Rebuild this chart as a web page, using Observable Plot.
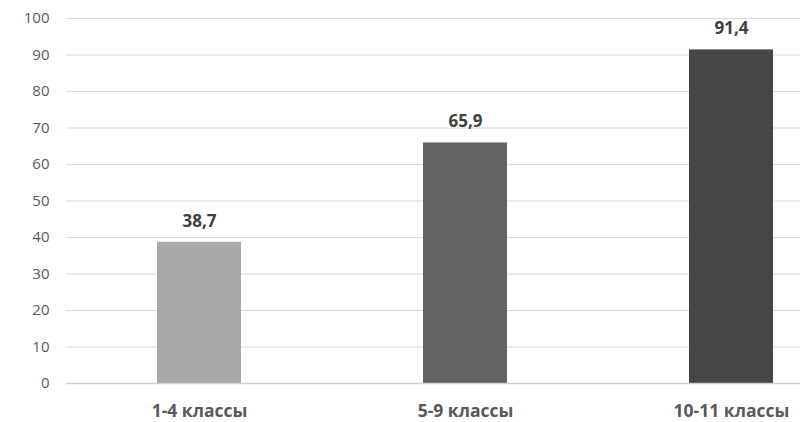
<!DOCTYPE html>
<html><head><meta charset="utf-8">
<script src="https://cdn.jsdelivr.net/npm/d3@7"></script>
<script src="https://cdn.jsdelivr.net/npm/@observablehq/plot@0.6"></script>
<style>
html,body{margin:0;padding:0;background:#fff;overflow:hidden;}
</style>
</head><body><div id="chart"></div>
<script>
const categories = ["1-4 классы", "5-9 классы", "10-11 классы"];
const values = [38.7, 65.9, 91.4];
const colors = ["#a9a9a9", "#636363", "#464646"];
const yTicks = [0,10,20,30,40,50,60,70,80,90,100];

const data = categories.map((c, i) => ({cat: c, value: values[i], color: colors[i], label: String(values[i]).replace(".", ",")}));

const chart = Plot.plot({
  width: 800,
  height: 422,
  marginLeft: 66,
  marginRight: 0,
  marginTop: 18,
  marginBottom: 39,
  style: {fontFamily: "'Open Sans', sans-serif", background: "#fff"},
  x: {domain: categories, range: [66, 864], paddingInner: 0.684, paddingOuter: 0.342, label: null},
  y: {domain: [0, 100], label: null},
  marks: [
    Plot.ruleY(yTicks.filter(d => d > 0), {stroke: "#d9d9d9", strokeWidth: 1, strokeOpacity: 1}),
    Plot.barY(data, {x: "cat", y: "value", fill: "color"}),
    Plot.ruleY([0], {stroke: "#d0d0d0", strokeWidth: 1.5}),
    Plot.axisY({ticks: yTicks, tickSize: 0, tickPadding: 17, fontSize: 15, fill: "#595959", label: null}),
    Plot.axisX({tickSize: 0, tickPadding: 21, fontSize: 17.5, fontWeight: "bold", fill: "#595959", label: null}),
    Plot.text(data, {x: "cat", y: "value", text: "label", dy: -21, fontSize: 17, fontWeight: "bold", fill: "#404040"})
  ]
});
document.getElementById("chart").appendChild(chart);
</script>
</body></html>
